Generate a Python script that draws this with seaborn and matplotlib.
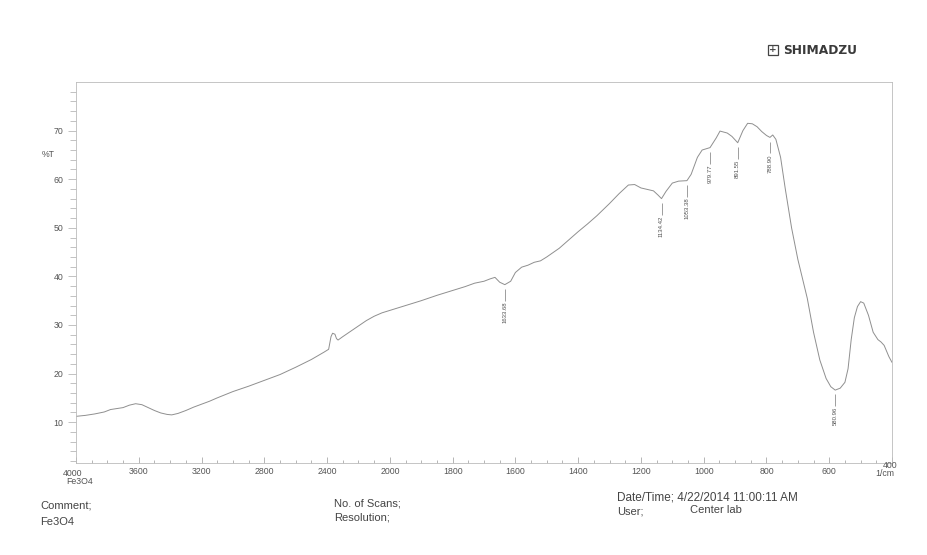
import numpy as np
import pandas as pd
import matplotlib
matplotlib.use("Agg")
import matplotlib.pyplot as plt
from matplotlib.ticker import FixedLocator, FixedFormatter
from matplotlib.patches import Rectangle
import seaborn as sns

# FTIR transmission spectrum of Fe3O4 (wavenumber in 1/cm, transmittance in %T)
wavenumber = [
    4000, 3940, 3880, 3820, 3780, 3740, 3700, 3660, 3620, 3580, 3540, 3500,
    3460, 3420, 3390, 3350, 3300, 3250, 3200, 3150, 3100, 3000, 2900, 2800,
    2700, 2600, 2500, 2420, 2390, 2375, 2365, 2350, 2340, 2330, 2300, 2250,
    2200, 2150, 2100, 2050, 2000, 1950, 1900, 1850, 1800, 1760, 1730, 1700,
    1680, 1665, 1650, 1633.68, 1615, 1600, 1580, 1560, 1540, 1520, 1500, 1460,
    1430, 1400, 1370, 1340, 1300, 1270, 1240, 1220, 1200, 1180, 1160, 1145,
    1134.42, 1120, 1100, 1080, 1053.38, 1040, 1020, 1005, 990, 979.77, 960,
    948, 925, 910, 891.55, 875, 860, 845, 830, 815, 800, 788.90, 780, 770,
    755, 740, 720, 700, 685, 670, 650, 630, 610, 595, 580.96, 565, 550, 540,
    530, 520, 510, 500, 490, 475, 460, 445, 435, 425, 410, 400,
]
transmittance = [
    11.2, 11.4, 11.7, 12.1, 12.6, 12.8, 13.0, 13.5, 13.8, 13.6, 13.0, 12.4,
    11.9, 11.6, 11.5, 11.8, 12.4, 13.1, 13.7, 14.3, 15.0, 16.3, 17.4, 18.6,
    19.8, 21.3, 22.9, 24.4, 25.0, 27.6, 28.3, 28.1, 27.2, 26.9, 27.6, 28.7,
    29.8, 30.9, 31.8, 32.5, 33.0, 34.0, 35.0, 36.1, 37.1, 37.9, 38.6, 39.0,
    39.5, 39.8, 38.8, 38.3, 39.0, 40.8, 41.9, 42.3, 42.9, 43.2, 44.0, 45.8,
    47.5, 49.2, 50.8, 52.5, 55.0, 57.0, 58.8, 58.9, 58.2, 57.9, 57.6, 56.7,
    56.0, 57.5, 59.2, 59.6, 59.7, 61.0, 64.5, 66.0, 66.3, 66.5, 68.5,
    69.9, 69.5, 68.8, 67.5, 70.0, 71.5, 71.4, 70.8, 69.8, 69.0, 68.6, 69.1, 68.2,
    64.5, 58.0, 50.0, 43.5, 39.5, 35.5, 28.5, 22.8, 19.0, 17.3, 16.6, 17.0, 18.2, 21.0,
    27.0, 31.5, 33.8, 34.8, 34.5, 32.0, 28.5, 27.0, 26.5, 25.8, 23.5, 22.3,
]

# Picked peaks
peak_positions = [1633.68, 1134.42, 1053.38, 979.77, 891.55, 788.90, 580.96]

# Axis ticks
x_major = [4000, 3600, 3200, 2800, 2400, 2000, 1800, 1600, 1400, 1200, 1000, 800, 600, 400]
x_labels = ["", "3600", "3200", "2800", "2400", "2000", "1800", "1600", "1400",
            "1200", "1000", "800", "600", ""]
x_minor = list(range(3900, 2000, -100)) + list(range(1950, 400, -50))
y_major = [10, 20, 30, 40, 50, 60, 70]
y_minor = list(range(2, 80, 2))

sns.set_style("white")
plt.rcParams['font.family'] = ['Liberation Sans', 'DejaVu Sans']

W, H = 927, 555
fig = plt.figure(figsize=(W / 100, H / 100), dpi=100)
fig.patch.set_facecolor("white")

def px(x, y):
    return x / W, 1 - y / H

ax = fig.add_axes([76 / W, 1 - 463 / H, (892 - 76) / W, (463 - 82) / H])

# Shimadzu-style abscissa: 4000-2000 drawn at half scale
def fwd(w):
    w = np.asarray(w, dtype=float)
    return np.where(w > 2000, 2000 + (w - 2000) / 2.0, w)

def inv(u):
    u = np.asarray(u, dtype=float)
    return np.where(u > 2000, 2000 + (u - 2000) * 2.0, u)

ax.set_xscale("function", functions=(fwd, inv))

df = pd.DataFrame({"wn": wavenumber, "T": transmittance})
sns.lineplot(data=df, x="wn", y="T", ax=ax, color="#8f8f8f", linewidth=0.7,
             sort=False, estimator=None)

ax.set_xlim(4000, 400)
ax.set_ylim(1.6, 80)
ax.set_xlabel("")
ax.set_ylabel("")

for s in ax.spines.values():
    s.set_color("#bbbbbb")
    s.set_linewidth(0.6)

ax.xaxis.set_major_locator(FixedLocator(x_major))
ax.xaxis.set_major_formatter(FixedFormatter(x_labels))
ax.xaxis.set_minor_locator(FixedLocator(x_minor))
ax.yaxis.set_major_locator(FixedLocator(y_major))
ax.yaxis.set_minor_locator(FixedLocator(y_minor))

ax.tick_params(axis="x", which="major", direction="in", length=4, width=0.5,
               color="#999999", labelsize=6.3, labelcolor="#555555", pad=3)
ax.tick_params(axis="x", which="minor", direction="in", length=2.5, width=0.5,
               color="#999999")
ax.tick_params(axis="y", which="major", direction="out", length=6, width=0.5,
               color="#aaaaaa", labelsize=6.3, labelcolor="#555555", pad=3)
ax.tick_params(axis="y", which="minor", direction="out", length=4, width=0.5,
               color="#aaaaaa")
ax.tick_params(bottom=True, left=True, which="both")

# Peak annotations
wn_arr = np.array(wavenumber)[::-1]
t_arr = np.array(transmittance)[::-1]
for p in peak_positions:
    t = float(np.interp(p, wn_arr, t_arr))
    ax.vlines(p, t - 3.3, t - 0.9, color="#777777", linewidth=0.5)
    ax.text(p, t - 3.5, f"{p:.2f}", rotation=90, ha="center", va="top",
            fontsize=4.3, color="#555555")

# Axis end labels and units
tc = "#555555"
fig.text(*px(73, 474), "4000", ha="center", va="center", fontsize=6.3, color=tc)
fig.text(*px(80, 482), "Fe3O4", ha="center", va="center", fontsize=6.3, color=tc)
fig.text(*px(890, 465), "400", ha="center", va="center", fontsize=6.3, color=tc)
fig.text(*px(885, 474), "1/cm", ha="center", va="center", fontsize=6.3, color=tc)
fig.text(*px(48, 154), "%T", ha="center", va="center", fontsize=6.3, color=tc)

# Instrument logo
fig.patches.append(Rectangle(px(768, 55), 10 / W, 10 / H, transform=fig.transFigure,
                             fill=False, edgecolor="#444444", linewidth=0.9))
fig.text(*px(773, 50), "+", ha="center", va="center", fontsize=6.5,
         color="#444444", fontweight="bold", family="DejaVu Sans")
fig.text(*px(783, 50), "SHIMADZU", ha="left", va="center", fontsize=8.8,
         color="#3a3a3a", fontweight="bold", family="DejaVu Sans")

# Footer information
fc = "#444444"
fs = 8
fig.text(*px(40, 506), "Comment;", ha="left", va="center", fontsize=fs, color=fc)
fig.text(*px(40, 522), "Fe3O4", ha="left", va="center", fontsize=fs, color=fc)
fig.text(*px(334, 503), "No. of Scans;", ha="left", va="center", fontsize=fs, color=fc)
fig.text(*px(334, 518), "Resolution;", ha="left", va="center", fontsize=fs, color=fc)
fig.text(*px(617, 497), "Date/Time; 4/22/2014 11:00:11 AM", ha="left", va="center",
         fontsize=8.5, color=fc)
fig.text(*px(617, 512), "User;", ha="left", va="center", fontsize=fs, color=fc)
fig.text(*px(690, 510), "Center lab", ha="left", va="center", fontsize=fs, color=fc)

fig.savefig("out.png", dpi=100, facecolor="white")
